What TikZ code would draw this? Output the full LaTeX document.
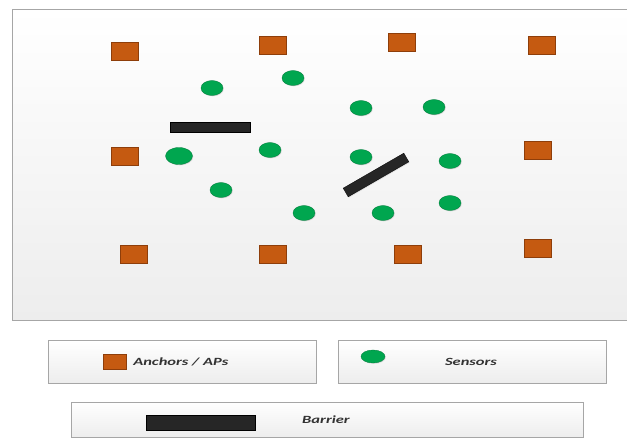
\documentclass[tikz,border=0pt]{standalone}
\usepackage{fontspec}
\setmainfont{Carlito}
\usetikzlibrary{shapes.geometric,shadows}
\definecolor{anchorc}{HTML}{C55A11}
\definecolor{anchord}{HTML}{8E3E0A}
\definecolor{sensorc}{HTML}{00A64F}
\definecolor{sensord}{HTML}{007A3A}
\definecolor{barc}{HTML}{262626}
\definecolor{framec}{HTML}{A6A6A6}
\definecolor{panelb}{HTML}{EDEDED}
\tikzset{
  anchorbox/.style={rectangle, fill=anchorc, draw=anchord, line width=0.4pt, minimum width=27pt, minimum height=18pt, inner sep=0pt, drop shadow={opacity=0.25, shadow xshift=0.8pt, shadow yshift=-0.8pt}},
  sensor/.style={ellipse, fill=sensorc, draw=sensord, line width=0.3pt, minimum width=22pt, minimum height=15pt, inner sep=0pt, drop shadow={opacity=0.25, shadow xshift=0.8pt, shadow yshift=-0.8pt}},
  barrier/.style={rectangle, fill=barc, draw=black, line width=0.3pt, inner sep=0pt, minimum height=10pt, drop shadow={opacity=0.2, shadow xshift=0.8pt, shadow yshift=-0.8pt}},
  panel/.style={draw=framec, line width=0.8pt, top color=white, bottom color=panelb},
  legendbox/.style={draw=framec, line width=0.8pt, top color=white, bottom color=panelb, drop shadow={opacity=0.2, shadow xshift=1pt, shadow yshift=-1pt}},
  legtext/.style={font=\fontsize{11}{13}\selectfont\bfseries\itshape, text=black!80, inner sep=0pt, xscale=1.5}
}
\begin{document}
\begin{tikzpicture}[x=1pt,y=-1pt]
\useasboundingbox (0,0) rectangle (627,438);
\fill[white] (0,0) rectangle (627,438);
% main panel
\draw[panel] (12,9) rectangle (632,320);
% anchors
\node[anchorbox] (a1) at (125,51) {};
\node[anchorbox] (a2) at (273,45) {};
\node[anchorbox] (a3) at (402,42) {};
\node[anchorbox] (a4) at (542,45) {};
\node[anchorbox] (a5) at (125,156) {};
\node[anchorbox] (a6) at (538,150) {};
\node[anchorbox] (a7) at (134,254) {};
\node[anchorbox] (a8) at (273,254) {};
\node[anchorbox] (a9) at (408,254) {};
\node[anchorbox] (a10) at (538,248) {};
% sensors
\node[sensor] (s1) at (212,88) {};
\node[sensor] (s2) at (293,78) {};
\node[sensor] (s3) at (361,108) {};
\node[sensor] (s4) at (434,107) {};
\node[sensor, minimum width=27pt, minimum height=17pt] (s5) at (179,156) {};
\node[sensor] (s6) at (270,150) {};
\node[sensor] (s7) at (361,157) {};
\node[sensor] (s8) at (450,161) {};
\node[sensor] (s9) at (221,190) {};
\node[sensor] (s10) at (304,213) {};
\node[sensor] (s11) at (383,213) {};
\node[sensor] (s12) at (450,203) {};
% barriers
\node[barrier, minimum width=80pt] (b1) at (210,127) {};
\node[barrier, minimum width=70pt, rotate=30] (b2) at (376,175) {};
% legend
\draw[legendbox] (48,340) rectangle (316,383);
\node[anchorbox, minimum width=23pt, minimum height=15pt] (la) at (114.5,361.5) {};
\node[legtext, anchor=west] (lat) at (133,362) {Anchors / APs};
\draw[legendbox] (338,340) rectangle (606,383);
\node[sensor, minimum width=24pt, minimum height=13pt] (ls) at (373,356.5) {};
\node[legtext] (lst) at (471,362) {Sensors};
\draw[legendbox] (71,402) rectangle (583,437.5);
\node[barrier, minimum width=109pt, minimum height=15pt] (lb) at (200.5,422.5) {};
\node[legtext] (lbt) at (326,420) {Barrier};
\end{tikzpicture}
\end{document}
